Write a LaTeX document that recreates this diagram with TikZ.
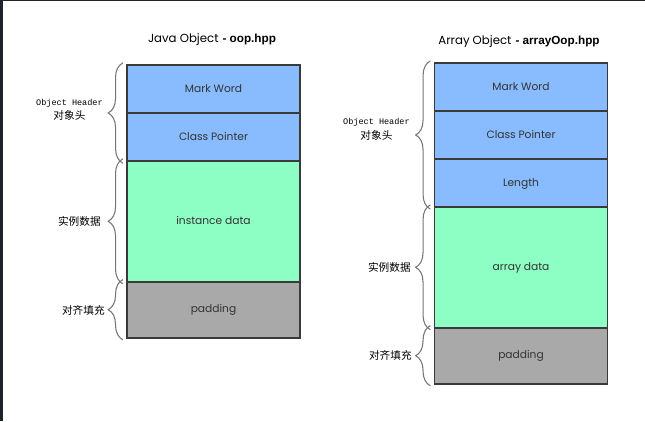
\documentclass[tikz,border=0pt]{standalone}
\usepackage{fontspec}
\newfontfamily\gothic{Poppins}
\newfontfamily\arial{Liberation Sans}
\newfontfamily\mono{Liberation Mono}
\newfontfamily\cjk{Noto Sans CJK SC}
\usetikzlibrary{decorations.pathreplacing}
\definecolor{hdr}{HTML}{88BBFF}
\definecolor{dat}{HTML}{8EFFC4}
\definecolor{pad}{HTML}{A9A9A9}
\definecolor{edge}{HTML}{3A3A3A}
\definecolor{frame}{HTML}{1E2329}
\definecolor{txt}{HTML}{333333}
\definecolor{brc}{HTML}{777777}
\tikzset{
  seg/.style={draw=edge, line width=1.2pt, inner sep=0pt, anchor=center, text=txt,
    minimum width=129.75pt, text height=5.6pt, text depth=0.8pt, font=\gothic\fontsize{8}{10}\selectfont},
  hbox/.style={seg, fill=hdr, minimum height=36pt},
  dbox/.style={seg, fill=dat, minimum height=90.5pt},
  pbox/.style={seg, fill=pad, minimum height=42pt},
  brace/.style={draw=brc, line width=0.8pt, decorate, decoration={brace, amplitude=11pt}},
  lab/.style={anchor=east, inner sep=0pt, text=black, font=\cjk\fontsize{8}{9}\selectfont},
  hlab/.style={anchor=east, inner sep=0pt, align=center, text=black, font=\fontsize{6.4}{10.8}\selectfont},
  ttl/.style={inner sep=0pt, font=\fontsize{8.8}{11}\selectfont}
}
\begin{document}
\begin{tikzpicture}[x=0.75pt,y=-0.75pt]
\useasboundingbox (0,0) rectangle (645,421);
\fill[white] (0,0) rectangle (645,421);
\fill[frame] (0,0) rectangle (3,421);
\fill[frame] (0,0) rectangle (645,1.2);

% Left: Java Object
\node[ttl] (t1) at (212,40) {{\gothic Java Object} {\arial\bfseries - oop.hpp}};
\node[hbox] (mw1) at (213.5,89) {Mark Word};
\node[hbox] (cp1) at (213.5,137) {Class Pointer};
\node[dbox] (id1) at (213.5,221.3) {instance data};
\node[pbox] (pd1) at (213.5,309.7) {padding};

\draw[brace] ([xshift=-2.5pt,yshift=-1pt]cp1.south west) -- ([xshift=-2.5pt,yshift=1pt]mw1.north west);
\draw[brace] ([xshift=-2.5pt,yshift=-1pt]id1.south west) -- ([xshift=-2.5pt,yshift=1pt]id1.north west);
\draw[brace] ([xshift=-2.5pt,yshift=-1pt]pd1.south west) -- ([xshift=-2.5pt,yshift=1pt]pd1.north west);

\node[hlab] (h1) at (103,110) {{\mono Object Header}\\{\cjk\fontsize{8}{9}\selectfont 对象头}};
\node[lab] (l1) at (101,221.5) {实例数据};
\node[lab] (p1) at (105,310) {对齐填充};

% Right: Array Object
\node[ttl] (t2) at (519,42) {{\gothic Array Object} {\arial\bfseries - arrayOop.hpp}};
\node[hbox] (mw2) at (521,87) {Mark Word};
\node[hbox] (cp2) at (521,135) {Class Pointer};
\node[hbox] (ln2) at (521,183) {Length};
\node[dbox] (ad2) at (521,267.3) {array data};
\node[pbox] (pd2) at (521,355.7) {padding};

\draw[brace] ([xshift=-2.5pt,yshift=-1pt]ln2.south west) -- ([xshift=-2.5pt,yshift=1pt]mw2.north west);
\draw[brace] ([xshift=-2.5pt,yshift=-1pt]ad2.south west) -- ([xshift=-2.5pt,yshift=1pt]ad2.north west);
\draw[brace] ([xshift=-2.5pt,yshift=-1pt]pd2.south west) -- ([xshift=-2.5pt,yshift=1pt]pd2.north west);

\node[hlab] (h2) at (410,129.5) {{\mono Object Header}\\{\cjk\fontsize{8}{9}\selectfont 对象头}};
\node[lab] (l2) at (411,267) {实例数据};
\node[lab] (p2) at (412,355) {对齐填充};
\end{tikzpicture}
\end{document}
